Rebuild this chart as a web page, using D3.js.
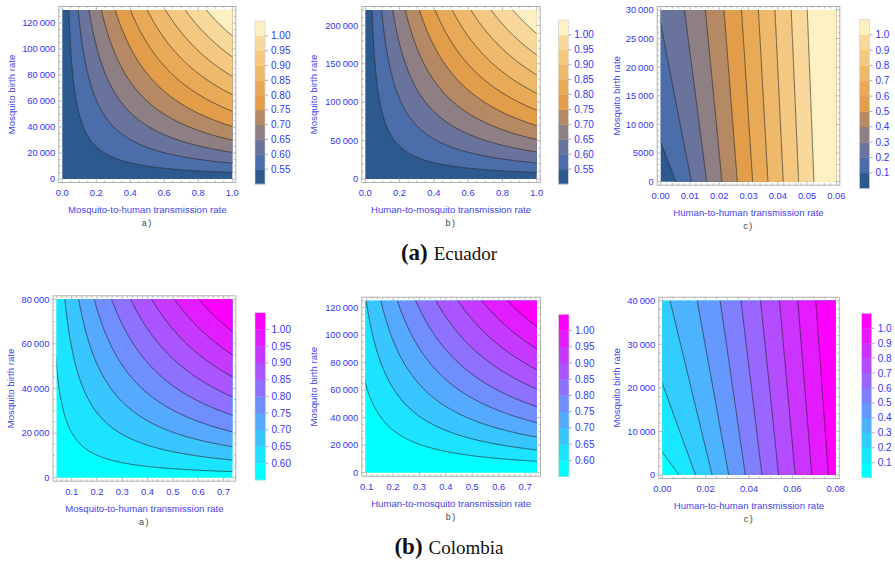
<!DOCTYPE html>
<html>
<head>
<meta charset="UTF-8">
<script src="https://cdnjs.cloudflare.com/ajax/libs/d3/7.8.5/d3.min.js"></script>
<style>
  body { margin: 0; background: #fff; }
  svg { display: block; font-family: "Liberation Sans", Arial, sans-serif; }
  .tick-label { fill: #3535f5; font-size: 9.4px; }
  .axis-title { fill: #4444f0; font-size: 9.6px; }
  .bar-label { fill: #3535f5; font-size: 10px; }
  .tag { fill: #444; font-size: 9px; letter-spacing: 1.5px; }
  .caption { font-family: "Liberation Serif", "Times New Roman", serif; fill: #111; }
</style>
</head>
<body>
<svg></svg>
<script>
var width = 895, height = 563;

// ---------- data

var xTitles = ["Mosquito-to-human transmission rate",
               "Human-to-mosquito transmission rate",
               "Human-to-human transmission rate"];
var yTitle = "Mosquito birth rate";
var tags = ["a)", "b)", "c)"];
var countries = ["Ecuador", "Colombia"];

// Ecuador
var ecuadorXDomain = [[0, 1], [0, 1], [0, 0.06]];
var ecuadorYDomain = [[0, 130000], [0, 220000], [0, 30000]];
var ecuadorXTicks = [[0, 0.2, 0.4, 0.6, 0.8, 1.0],
                     [0, 0.2, 0.4, 0.6, 0.8, 1.0],
                     [0, 0.01, 0.02, 0.03, 0.04, 0.05, 0.06]];
var ecuadorYTicks = [[0, 20000, 40000, 60000, 80000, 100000, 120000],
                     [0, 50000, 100000, 150000, 200000],
                     [0, 5000, 10000, 15000, 20000, 25000, 30000]];
var ecuadorLevels = [[0.55, 0.60, 0.65, 0.70, 0.75, 0.80, 0.85, 0.90, 0.95, 1.00],
                     [0.55, 0.60, 0.65, 0.70, 0.75, 0.80, 0.85, 0.90, 0.95, 1.00],
                     [0.1, 0.2, 0.3, 0.4, 0.5, 0.6, 0.7, 0.8, 0.9, 1.0]];
// R0 = (Rhh + sqrt(Rhh^2 + 4 Rhv)) / 2, terms fitted to where the contours cross the frame
// a,b: Rhh constant, Rhv = coef * x * y ; c: Rhh = coef * x, Rhv = coef * y
var ecuadorHH = [0.51, 0.51, 19.1];
var ecuadorHV = [4.45e-6, 2.59e-6, 1.45e-6];

// Colombia
var colombiaXDomain = [[0.04, 0.735], [0.095, 0.745], [0, 0.08]];
var colombiaYDomain = [[0, 80000], [0, 125000], [0, 40000]];
var colombiaXTicks = [[0.1, 0.2, 0.3, 0.4, 0.5, 0.6, 0.7],
                      [0.1, 0.2, 0.3, 0.4, 0.5, 0.6, 0.7],
                      [0, 0.02, 0.04, 0.06, 0.08]];
var colombiaYTicks = [[0, 20000, 40000, 60000, 80000],
                      [0, 20000, 40000, 60000, 80000, 100000, 120000],
                      [0, 10000, 20000, 30000, 40000]];
var colombiaLevels = [[0.60, 0.65, 0.70, 0.75, 0.80, 0.85, 0.90, 0.95, 1.00],
                      [0.60, 0.65, 0.70, 0.75, 0.80, 0.85, 0.90, 0.95, 1.00],
                      [0.1, 0.2, 0.3, 0.4, 0.5, 0.6, 0.7, 0.8, 0.9, 1.0]];
var colombiaHH = [0.57, 0.54, 13.05];
var colombiaHV = [8.92e-6, 5.82e-6, 1.9e-6];

// ---------- styles / layout

var ecuadorColors = ["#2c5a8e", "#4b6eab", "#6a739b", "#8d7f84", "#b58963", "#e29d4b",
                     "#e9aa58", "#efb96c", "#f4c881", "#f8d89b", "#fdf0c2"];
var colombiaInterp = d3.interpolateRgb("#00ffff", "#ff00ff");

var xFormats = [[".1f", ".1f", ".2f"], [".1f", ".1f", ".2f"]];
var barFormats = [[".2f", ".2f", ".1f"], [".2f", ".2f", ".1f"]];

var layout = [
  [ {x0: 62.3, x1: 232.3, y0: 10, y1: 179, bar: [255, 265, 21, 184], yTitleX: 12},
    {x0: 365.3, x1: 536.7, y0: 10, y1: 179, bar: [558.3, 568.3, 20, 184], yTitleX: 313.5},
    {x0: 660.7, x1: 836.3, y0: 10, y1: 181.7, bar: [859.5, 869.5, 19.3, 188.3], yTitleX: 617} ],
  [ {x0: 56.5, x1: 232.3, y0: 299.3, y1: 477.7, bar: [255, 265.5, 312.7, 480], yTitleX: 10.5},
    {x0: 365.3, x1: 537, y0: 300.7, y1: 472.7, bar: [558.7, 569, 314.3, 476.7], yTitleX: 314},
    {x0: 662.3, x1: 835.7, y0: 300.7, y1: 475, bar: [861.7, 871.7, 313.3, 477.7], yTitleX: 617} ]
];

var svg = d3.select("svg").attr("width", width).attr("height", height);
var defs = svg.append("defs");

function r0(kind, hh, hv, x, y) {
  var rhh = kind === 2 ? hh * x : hh;
  var rhv = kind === 2 ? hv * y : hv * x * y;
  return (rhh + Math.sqrt(Math.max(0, rhh * rhh + 4 * rhv))) / 2;
}

function digitBlock(v) {
  var s = String(v);
  if (s.length > 4) s = s.slice(0, -3) + "\u2009" + s.slice(-3);
  return s;
}

function minorStep(step) {
  var lead = Math.round(step / Math.pow(10, Math.floor(Math.log10(step) + 1e-9)));
  return lead === 2 ? step / 4 : step / 5;
}

function drawPanel(row, col, xd, yd, xt, yt, levels, hh, hv, colors) {
  var L = layout[row][col];
  var g = svg.append("g");
  var xs = d3.scaleLinear().domain(xd).range([L.x0, L.x1]);
  var ys = d3.scaleLinear().domain(yd).range([L.y1, L.y0]);

  // grid, a few cells beyond the frame so the edges get clipped away
  var n = 170, m = 3;
  var sx = (xd[1] - xd[0]) / (n - 1 - 2 * m), sy = (yd[1] - yd[0]) / (n - 1 - 2 * m);
  var values = new Array(n * n);
  for (var j = 0; j < n; ++j)
    for (var i = 0; i < n; ++i)
      values[j * n + i] = r0(col, hh, hv, xd[0] + (i - m) * sx, yd[0] + (j - m) * sy);

  var proj = d3.geoTransform({
    point: function(gx, gy) {
      this.stream.point(xs(xd[0] + (gx - 0.5 - m) * sx), ys(yd[0] + (gy - 0.5 - m) * sy));
    }
  });
  var path = d3.geoPath(proj);

  var clipId = "clip" + row + col;
  defs.append("clipPath").attr("id", clipId)
    .append("rect").attr("x", L.x0).attr("y", L.y0)
    .attr("width", L.x1 - L.x0).attr("height", L.y1 - L.y0);

  var plot = g.append("g").attr("clip-path", "url(#" + clipId + ")");

  var bands = d3.contours().size([n, n]).thresholds([-10].concat(levels))(values);
  plot.selectAll("path.band").data(bands).enter().append("path")
    .attr("class", "band")
    .attr("d", path)
    .attr("fill", function(d, i) { return colors[i]; })
    .attr("stroke", function(d, i) { return colors[i]; })
    .attr("stroke-width", 0.4);

  var lines = d3.contours().size([n, n]).thresholds(levels)(values);
  plot.selectAll("path.line").data(lines).enter().append("path")
    .attr("class", "line")
    .attr("d", path)
    .attr("fill", "none")
    .attr("stroke", "#262626")
    .attr("stroke-opacity", 0.85)
    .attr("stroke-width", 0.75);

  // frame
  var pad = 3.5;
  var fx0 = L.x0 - pad, fx1 = L.x1 + pad, fy0 = L.y0 - pad, fy1 = L.y1 + pad;
  g.append("rect").attr("x", fx0).attr("y", fy0)
    .attr("width", fx1 - fx0).attr("height", fy1 - fy0)
    .attr("fill", "none").attr("stroke", "#b0b0b0").attr("stroke-width", 1);

  // ticks (all four sides, pointing in)
  var ticks = g.append("g").attr("stroke", "#a8a8a8").attr("stroke-width", 0.8);
  function addTicks(majors, domain, scale, horizontal) {
    var step = majors[1] - majors[0];
    var ms = minorStep(step);
    var start = Math.ceil((domain[0] - 1e-9) / ms), stop = Math.floor((domain[1] + 1e-9) / ms);
    for (var k = start; k <= stop; ++k) {
      var v = k * ms;
      var isMajor = Math.abs(v / step - Math.round(v / step)) < 1e-6;
      var len = isMajor ? 4 : 2;
      var p = scale(v);
      if (horizontal) {
        ticks.append("line").attr("x1", p).attr("x2", p).attr("y1", fy1).attr("y2", fy1 - len);
        ticks.append("line").attr("x1", p).attr("x2", p).attr("y1", fy0).attr("y2", fy0 + len);
      } else {
        ticks.append("line").attr("y1", p).attr("y2", p).attr("x1", fx0).attr("x2", fx0 + len);
        ticks.append("line").attr("y1", p).attr("y2", p).attr("x1", fx1).attr("x2", fx1 - len);
      }
    }
  }
  addTicks(xt, xd, xs, true);
  addTicks(yt, yd, ys, false);

  var xf = d3.format(xFormats[row][col]);
  g.selectAll("text.xl").data(xt).enter().append("text")
    .attr("class", "tick-label")
    .attr("x", function(d) { return xs(d); })
    .attr("y", fy1 + 13.3)
    .attr("text-anchor", "middle")
    .text(function(d) { return xf(d); });

  g.selectAll("text.yl").data(yt).enter().append("text")
    .attr("class", "tick-label")
    .attr("x", fx0 - 3.5)
    .attr("y", function(d) { return ys(d); })
    .attr("dy", "0.35em")
    .attr("text-anchor", "end")
    .text(digitBlock);

  g.append("text").attr("class", "axis-title")
    .attr("x", (L.x0 + L.x1) / 2).attr("y", fy1 + 30.5)
    .attr("text-anchor", "middle")
    .text(xTitles[col]);

  g.append("text").attr("class", "axis-title")
    .attr("transform", "translate(" + (L.yTitleX + 3) + "," + ((L.y0 + L.y1) / 2) + ") rotate(-90)")
    .attr("text-anchor", "middle")
    .text(yTitle);

  g.append("text").attr("class", "tag")
    .attr("x", (L.x0 + L.x1) / 2).attr("y", fy1 + 43.5)
    .attr("text-anchor", "middle")
    .text(tags[col]);

  // bar legend: one equal band per contour interval
  var b = L.bar;
  var nb = levels.length + 1;
  var bs = d3.scaleLinear().domain([0, nb]).range([b[3], b[2]]);
  var leg = g.append("g");
  leg.selectAll("rect").data(d3.range(nb)).enter().append("rect")
    .attr("x", b[0]).attr("width", b[1] - b[0])
    .attr("y", function(i) { return bs(i + 1); })
    .attr("height", function(i) { return bs(i) - bs(i + 1) + 0.3; })
    .attr("fill", function(i) { return colors[i]; });
  leg.append("rect").attr("x", b[0]).attr("y", b[2])
    .attr("width", b[1] - b[0]).attr("height", b[3] - b[2])
    .attr("fill", "none").attr("stroke", "#d0d0d0").attr("stroke-width", 0.6);
  var bf = d3.format(barFormats[row][col]);
  leg.selectAll("line").data(levels).enter().append("line")
    .attr("x1", b[1]).attr("x2", b[1] + 3)
    .attr("y1", function(d, i) { return bs(i + 1); })
    .attr("y2", function(d, i) { return bs(i + 1); })
    .attr("stroke", "#999").attr("stroke-width", 0.8);
  leg.selectAll("text").data(levels).enter().append("text")
    .attr("class", "bar-label")
    .attr("x", b[1] + 6)
    .attr("y", function(d, i) { return bs(i + 1); })
    .attr("dy", "0.35em")
    .text(function(d) { return bf(d); });
}

for (var c = 0; c < 3; ++c) {
  drawPanel(0, c, ecuadorXDomain[c], ecuadorYDomain[c], ecuadorXTicks[c], ecuadorYTicks[c],
            ecuadorLevels[c], ecuadorHH[c], ecuadorHV[c], ecuadorColors);
  var nb = colombiaLevels[c].length + 1;
  var cc = d3.range(nb).map(function(i) { return colombiaInterp(i / (nb - 1)); });
  drawPanel(1, c, colombiaXDomain[c], colombiaYDomain[c], colombiaXTicks[c], colombiaYTicks[c],
            colombiaLevels[c], colombiaHH[c], colombiaHV[c], cc);
}

// captions
var capY = [260, 554.3];
["a", "b"].forEach(function(letter, r) {
  var t = svg.append("text").attr("class", "caption")
    .attr("x", 449).attr("y", capY[r]).attr("text-anchor", "middle");
  t.append("tspan").attr("font-weight", "bold").attr("font-size", 23).text("(" + letter + ")");
  t.append("tspan").attr("font-size", 19).attr("dx", 6).text(countries[r]);
});
</script>
</body>
</html>
